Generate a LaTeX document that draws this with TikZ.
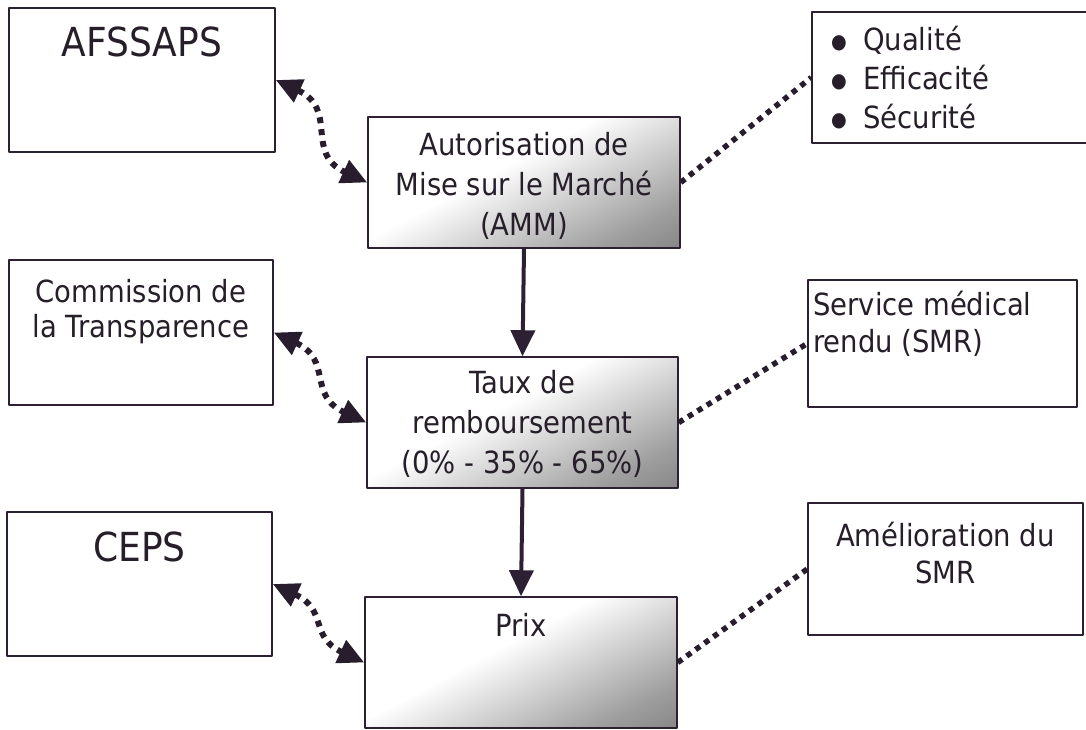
\documentclass[tikz,border=0pt]{standalone}
\usepackage{fontspec}
\setmainfont{DejaVu Sans Condensed}
\usetikzlibrary{arrows.meta,calc}
\definecolor{vien}{RGB}{45,32,50}
\definecolor{chuden}{RGB}{38,30,40}
\pgfdeclarehorizontalshading{bongmo}{100bp}{color(0bp)=(white); color(44bp)=(white); color(74bp)=(black!38); color(100bp)=(black!62)}
\newcommand\puce{\makebox[32pt][l]{\raisebox{2.5pt}{\fontsize{20}{0}\selectfont ●}}}
\begin{document}
\begin{tikzpicture}[x=1pt, y=-1pt, line join=round, line cap=round,
  hop/.style={draw=vien, line width=1.5pt, rectangle, inner sep=0pt},
  bong/.style={shade, shading=bongmo, shading angle=-62},
  chu/.style={text=chuden, inner sep=0pt, anchor=north, align=center, font=\fontsize{30.5}{40}\selectfont},
  chulon/.style={text=chuden, inner sep=0pt, anchor=north, font=\fontsize{40}{48}\selectfont},
  mui/.style={draw=vien, line width=4pt, line cap=butt, -{Triangle[width=24pt,length=26pt]}},
  cham/.style={draw=vien!90!black, line width=6pt, line cap=butt, dash pattern=on 6pt off 6pt},
  chamnho/.style={draw=vien!90!black, line width=5.5pt, line cap=butt, dash pattern=on 5.5pt off 5.5pt},
  muidoi/.style={cham, {Triangle[width=24pt,length=26pt]}-{Triangle[width=24pt,length=26pt]}}]
\useasboundingbox (0,0) rectangle (1086,730);
% Các hộp bên trái
\node[hop, minimum width=266pt, minimum height=144pt] (afssaps) at (142,80) {};
\node[hop, minimum width=264pt, minimum height=145pt] (commission) at (141,332.5) {};
\node[hop, minimum width=265pt, minimum height=144pt] (ceps) at (139.5,584) {};
% Các hộp ở giữa (có bóng mờ)
\node[hop, bong, minimum width=312pt, minimum height=131pt] (amm) at (524,182.5) {};
\node[hop, bong, minimum width=311pt, minimum height=131pt] (taux) at (522.5,422.5) {};
\node[hop, bong, minimum width=312pt, minimum height=131pt] (prix) at (521,662.5) {};
% Các hộp bên phải
\node[hop, minimum width=278pt, minimum height=131pt] (qualite) at (951,77.5) {};
\node[hop, minimum width=269pt, minimum height=127pt] (smr) at (942.5,343.5) {};
\node[hop, minimum width=275pt, minimum height=132pt] (asmr) at (945.5,569) {};
% Chữ trong các hộp
\node[chulon] (tafssaps) at ($(afssaps.north)+(0,19)$) {AFSSAPS};
\node[chu, font=\fontsize{30.5}{35}\selectfont] (tcommission) at ($(commission.north)+(0,20)$) {Commission de\\la Transparence};
\node[chulon] (tceps) at ($(ceps.north)+(0,20)$) {CEPS};
\node[chu] (tamm) at ($(amm.north)+(0,16)$) {Autorisation de\\Mise sur le Marché\\(AMM)};
\node[chu] (ttaux) at ($(taux.north)+(0,14)$) {Taux de\\remboursement\\(0\% - 35\% - 65\%)};
\node[chu] (tprix) at ($(prix.north)+(0,17)$) {Prix};
\node[chu, anchor=north west, align=left, font=\fontsize{30.5}{39}\selectfont] (tqualite) at (831,26) {\puce Qualité\\\puce Efficacité\\\puce Sécurité};
\node[chu, anchor=north west, align=left, font=\fontsize{30.5}{37}\selectfont] (tsmr) at (813,291) {Service médical\\rendu (SMR)};
\node[chu, font=\fontsize{30.5}{37}\selectfont] (tasmr) at ($(asmr.north)+(0,20)$) {Amélioration du\\SMR};
% Mũi tên đậm giữa các bước
\draw[mui] (amm.south) -- (taux.north);
\draw[mui] (taux.south) -- (prix.north);
% Mũi tên chấm hai chiều bên trái
\draw[muidoi] (afssaps.east) to[out=-25, in=155, looseness=1.3] (amm.west);
\draw[muidoi] (commission.east) to[out=-25, in=155, looseness=1.3] (taux.west);
\draw[muidoi] (ceps.east) to[out=-25, in=155, looseness=1.3] (prix.west);
% Đường chấm bên phải
\draw[chamnho] (amm.east) -- (qualite.west);
\draw[chamnho] (taux.east) -- (smr.west);
\draw[chamnho] (prix.east) -- (asmr.west);
\end{tikzpicture}
\end{document}
